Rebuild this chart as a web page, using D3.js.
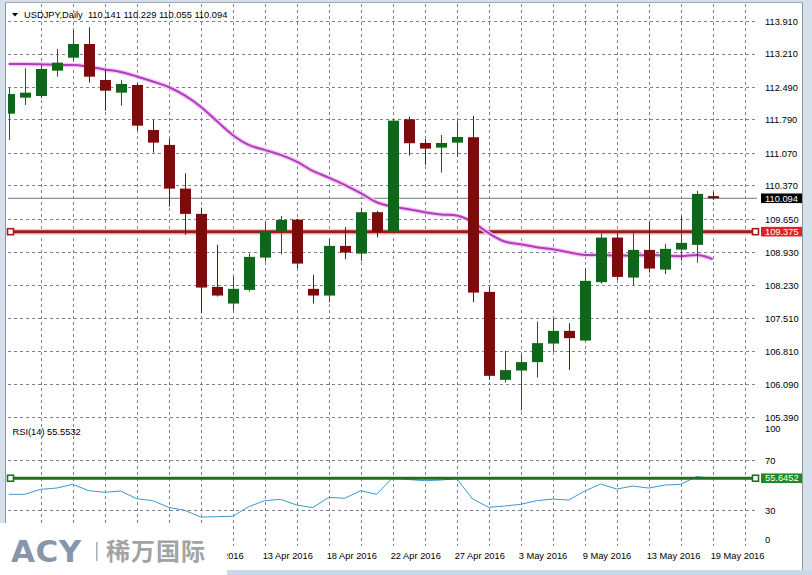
<!DOCTYPE html>
<html><head><meta charset="utf-8">
<script src="https://cdn.jsdelivr.net/npm/d3@7"></script>
<style>
html,body{margin:0;padding:0;background:#fff;}
svg{display:block;font-family:"Liberation Sans",Arial,sans-serif;}
</style></head>
<body>
<svg id="c" width="812" height="575"></svg>
<script>
// ---------- DATA ----------
const opens  = [111.915,112.26,112.296,112.841,113.12,113.415,112.641,112.367,112.533,111.565,111.242,110.302,109.758,108.187,107.828,108.122,108.817,109.377,109.635,108.144,108.0,109.069,108.903,109.794,109.364,111.795,111.285,111.184,111.292,111.408,108.079,106.186,106.386,106.567,106.967,107.24,107.032,108.288,109.248,108.387,108.983,108.559,108.99,109.091,110.141];
const highs  = [112.475,112.892,112.963,113.308,113.716,113.774,112.856,112.641,112.57,111.78,111.371,110.633,109.893,109.091,108.409,108.903,109.579,109.715,109.65,108.445,109.22,109.471,109.893,109.822,111.795,111.851,111.365,111.457,111.758,111.866,108.187,106.81,106.724,107.44,107.514,107.406,108.589,109.342,109.342,109.377,109.579,109.106,109.708,110.252,110.229];
const lows   = [111.35,112.103,112.247,112.712,113.034,112.583,111.98,112.088,111.55,111.076,109.915,109.306,107.621,107.978,107.677,108.086,108.731,108.89,108.589,107.828,107.858,108.783,108.746,109.256,109.342,111.012,110.812,110.646,110.99,107.858,106.186,106.128,105.526,106.236,106.795,106.401,107.025,108.258,108.338,108.215,108.495,108.46,108.746,108.71,110.055];
const closes = [112.339,112.367,112.877,113.013,113.415,112.712,112.41,112.555,111.657,111.292,110.302,109.758,108.172,108.0,108.144,108.832,109.377,109.628,108.688,108.0,109.069,108.925,109.794,109.364,111.765,111.279,111.163,111.285,111.414,108.064,106.272,106.395,106.567,106.976,107.24,107.083,108.316,109.248,108.402,108.983,108.581,109.005,109.134,110.188,110.094];
const maValues = [112.985,112.985,112.98,112.963,112.963,112.927,112.867,112.813,112.716,112.608,112.49,112.307,112.066,111.759,111.457,111.242,111.135,111.027,110.883,110.683,110.539,110.382,110.203,110.009,109.915,109.859,109.794,109.747,109.721,109.579,109.342,109.162,109.106,109.041,108.998,108.934,108.875,108.875,108.86,108.86,108.875,108.86,108.848,108.875,108.783];
const rsiValues = [42.8,42.8,46.8,47.8,50.8,45.7,44.4,45.4,39.3,37.7,32.4,30.0,24.6,24.9,25.2,32.9,37.7,38.8,34.2,32.1,40.4,39.6,45.7,42.8,56.1,54.6,53.7,54.2,55.3,39.0,32.4,33.4,34.8,37.7,39.0,38.2,45.4,51.0,47.0,49.4,47.8,50.2,50.8,57.0,55.55];
const priceTicks = [113.910,113.210,112.490,111.790,111.070,110.370,109.650,108.930,108.230,107.510,106.810,106.090,105.390];
const rsiTicks = [100,70,30,0];
const rsiLevels = [70,30];
const dateLabels = [{i:12,t:"7 Apr 2016"},{i:16,t:"13 Apr 2016"},{i:20,t:"18 Apr 2016"},{i:24,t:"22 Apr 2016"},{i:28,t:"27 Apr 2016"},{i:32,t:"3 May 2016"},{i:36,t:"9 May 2016"},{i:40,t:"13 May 2016"},{i:44,t:"19 May 2016"}];
const gridIdx = d3.range(2, 47, 2);
const headerText = "USDJPY,Daily\u00a0\u00a0110.141 110.229 110.055 110.094";
const rsiText = "RSI(14) 55.5532";
const bidPrice = 110.094;
const redLevel = 109.375;
const greenLevel = 55.6452;

// ---------- LAYOUT ----------
const svg = d3.select("#c");
const L = 8, R = 757;
const x = d3.scaleLinear().domain([0, 44]).range([8.7, 712.7]);
const y = d3.scaleLinear().domain([105.39, 113.91]).range([416.8, 21]);
const yR = d3.scaleLinear().domain([0, 100]).range([547.8, 422.8]);
const font = 9.3;

// window frame
svg.append("rect").attr("x",0).attr("y",0).attr("width",812).attr("height",575).attr("fill","#d6e0ec");
svg.append("rect").attr("x",5).attr("y",2).attr("width",798).attr("height",568).attr("fill","#fff");
svg.append("line").attr("x1",5.5).attr("x2",5.5).attr("y1",2).attr("y2",570).attr("stroke","#8d98a6");
svg.append("line").attr("x1",802.5).attr("x2",802.5).attr("y1",2).attr("y2",570).attr("stroke","#8d98a6");
svg.append("line").attr("x1",5).attr("x2",803).attr("y1",2.5).attr("y2",2.5).attr("stroke","#a0a8b4");

const defs = svg.append("defs");
defs.append("clipPath").attr("id","pclip").append("rect").attr("x",L).attr("y",3).attr("width",R-L).attr("height",417);
defs.append("clipPath").attr("id","rclip").append("rect").attr("x",L).attr("y",421).attr("width",R-L).attr("height",126);
defs.append("clipPath").attr("id","dclip").append("rect").attr("x",227).attr("y",540).attr("width",580).attr("height",30);

// grid
const grid = svg.append("g").attr("stroke","#7b8490").attr("stroke-dasharray","3,3").attr("stroke-width",1);
grid.selectAll("line.v").data(gridIdx).join("line")
  .attr("x1",d=>Math.round(x(d))+0.5).attr("x2",d=>Math.round(x(d))+0.5).attr("y1",4).attr("y2",546);
grid.selectAll("line.h").data(priceTicks).join("line")
  .attr("x1",L).attr("x2",R).attr("y1",d=>Math.round(y(d))+0.5).attr("y2",d=>Math.round(y(d))+0.5);
grid.selectAll("line.r").data(rsiLevels).join("line")
  .attr("x1",L).attr("x2",R).attr("y1",d=>Math.round(yR(d))+0.5).attr("y2",d=>Math.round(yR(d))+0.5);

// price axis
const pAxis = d3.axisRight(y).tickValues(priceTicks).tickFormat(d3.format(".3f")).tickSize(0).tickPadding(0);
const pa = svg.append("g").attr("transform",`translate(765,0)`).call(pAxis);
pa.select(".domain").remove();
pa.selectAll("text").attr("font-size",font).attr("font-family","Liberation Sans, Arial").attr("fill","#000").attr("dy","0.35em");

// RSI axis labels
const rOffsets = {100:6, 70:0, 30:0, 0:-7.8};
svg.append("g").selectAll("text").data(rsiTicks).join("text")
  .attr("x",765).attr("y",d=>yR(d)+rOffsets[d]).attr("dy","0.35em")
  .attr("font-size",font).attr("fill","#000").text(d=>String(d));

// bid line
const bidG = svg.append("g").attr("clip-path","url(#pclip)");
bidG.append("line").attr("x1",L).attr("x2",R).attr("y1",y(bidPrice)).attr("y2",y(bidPrice)).attr("stroke","#707090").attr("stroke-width",1);

// red horizontal line
svg.append("line").attr("x1",L).attr("x2",R).attr("y1",y(redLevel)).attr("y2",y(redLevel)).attr("stroke","#f6c9c9").attr("stroke-width",6);
svg.append("line").attr("x1",L).attr("x2",R).attr("y1",y(redLevel)).attr("y2",y(redLevel)).attr("stroke","#9c1c1c").attr("stroke-width",3);
[10.5, 755.5].forEach(px=>{
  svg.append("rect").attr("x",px-3).attr("y",y(redLevel)-3).attr("width",6).attr("height",6).attr("fill","#fff").attr("stroke","#9c1c1c").attr("stroke-width",1.6);
});

// MA
const maLine = d3.line().x((d,i)=>x(i)).y(d=>y(d)).curve(d3.curveMonotoneX);
const maG = svg.append("g").attr("clip-path","url(#pclip)");
maG.append("path").attr("d",maLine(maValues)).attr("fill","none").attr("stroke","#f2c8f2").attr("stroke-width",4.5);
maG.append("path").attr("d",maLine(maValues)).attr("fill","none").attr("stroke","#b23cbf").attr("stroke-width",2);

// candles
const candles = opens.map((o,i)=>({i,o,h:highs[i],l:lows[i],c:closes[i]}));
const cg = svg.append("g").attr("clip-path","url(#pclip)");
const green = "#0f671a", red = "#7d0b0b";
cg.selectAll("line.w").data(candles).join("line")
  .attr("x1",d=>Math.round(x(d.i))+0.5).attr("x2",d=>Math.round(x(d.i))+0.5)
  .attr("y1",d=>y(d.h)).attr("y2",d=>y(d.l))
  .attr("stroke",d=>d.c>=d.o?green:red).attr("stroke-width",1);
cg.selectAll("rect.b").data(candles).join("rect")
  .attr("x",d=>Math.round(x(d.i))-5).attr("width",11)
  .attr("y",d=>y(Math.max(d.o,d.c))).attr("height",d=>Math.max(1.5,Math.abs(y(d.o)-y(d.c))))
  .attr("fill",d=>d.c>=d.o?green:red);

// price labels boxes
function tag(yv, bg, txt){
  svg.append("rect").attr("x",761).attr("y",yv-4.8).attr("width",41).attr("height",9.6).attr("fill",bg);
  svg.append("text").attr("x",765).attr("y",yv).attr("dy","0.35em").attr("font-size",font).attr("fill","#fff").text(txt);
}
tag(y(bidPrice), "#000", d3.format(".3f")(bidPrice));
tag(y(redLevel), "#e0202a", d3.format(".3f")(redLevel));

// RSI
const rsiLine = d3.line().x((d,i)=>x(i)).y(d=>yR(d));
svg.append("g").attr("clip-path","url(#rclip)").append("path").attr("d",rsiLine(rsiValues))
  .attr("fill","none").attr("stroke","#3d98cc").attr("stroke-width",1);
svg.append("line").attr("x1",L).attr("x2",R).attr("y1",yR(greenLevel)).attr("y2",yR(greenLevel)).attr("stroke","#256b25").attr("stroke-width",3);
[10.5, 755.5].forEach(px=>{
  svg.append("rect").attr("x",px-3).attr("y",yR(greenLevel)-3).attr("width",6).attr("height",6).attr("fill","#fff").attr("stroke","#256b25").attr("stroke-width",1.6);
});
tag(yR(greenLevel), "#1f8a23", d3.format(".4f")(greenLevel));

// header
svg.append("path").attr("d","M12,13 L18,13 L15,16.5 Z").attr("fill","#000");
svg.append("text").attr("x",24).attr("y",18).attr("font-size",font).attr("fill","#000").text(headerText);
svg.append("text").attr("x",12.5).attr("y",435).attr("font-size",font).attr("fill","#000").text(rsiText);

// date labels (the first one is partly hidden by the logo, as in the reference)
svg.append("g").attr("clip-path","url(#dclip)").selectAll("text").data(dateLabels).join("text")
  .attr("x",d=>x(d.i)-2).attr("y",559).attr("font-size",font).attr("fill","#000").text(d=>d.t);

// bottom strip
svg.append("rect").attr("x",0).attr("y",570).attr("width",812).attr("height",5).attr("fill","#c9d9ea");

// ACY logo overlay
svg.append("rect").attr("x",0).attr("y",523).attr("width",227).attr("height",52).attr("fill","#fff");
svg.append("text").attr("x",11).attr("y",562).attr("font-size",31).attr("font-weight","bold")
  .attr("font-family","DejaVu Sans").attr("fill","#8796ab").attr("letter-spacing","0.5").text("ACY");
svg.append("rect").attr("x",96).attr("y",542).attr("width",1.5).attr("height",19).attr("fill","#a4adb8");
svg.append("text").attr("x",106).attr("y",560).attr("font-size",24).attr("font-weight","bold")
  .attr("font-family","Noto Sans CJK SC").attr("fill","#a3a3a3").attr("letter-spacing","1").text("稀万国际");
</script>
</body></html>
